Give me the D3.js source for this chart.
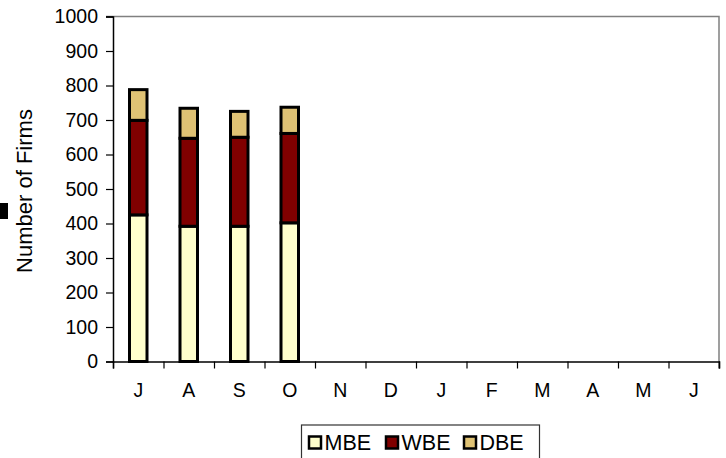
<!doctype html>
<html>
<head>
	<title>Number of Firms</title>
	<script src="https://cdn.jsdelivr.net/npm/d3@7"></script>
	<style>
		body { margin: 0; background: #fff; }
		text { font-family: "Liberation Sans", Arial, sans-serif; fill: #000; }
	</style>
</head>
<body>
	<script>
		var months = ["J", "A", "S", "O", "N", "D", "J", "F", "M", "A", "M", "J"];
		var seriesNames = ["MBE", "WBE", "DBE"];
		var seriesColors = ["#ffffcc", "#800000", "#dfc274"];
		var mbe = [425, 392, 392, 402];
		var wbe = [274, 255, 258, 259];
		var dbe = [89, 87, 75, 76];
		var yTicks = [0, 100, 200, 300, 400, 500, 600, 700, 800, 900, 1000];

		var width = 726, height = 458;
		var plotLeft = 113, plotRight = 719, plotTop = 16.5, plotBottom = 361.5;

		var svg = d3.select("body").append("svg")
			.attr("width", width)
			.attr("height", height);

		var x = d3.scaleBand()
			.domain(d3.range(months.length))
			.range([plotLeft, plotRight])
			.paddingInner(0)
			.paddingOuter(0);

		var y = d3.scaleLinear()
			.domain([0, 1000])
			.range([plotBottom, plotTop]);

		// plot area border (grey, top and right)
		svg.append("path")
			.attr("d", "M" + (plotLeft - 7) + "," + plotTop + "H" + plotRight + "V" + (plotBottom + 7))
			.attr("fill", "none")
			.attr("stroke", "#808080")
			.attr("stroke-width", 1.5);

		// stacked bars
		var rows = mbe.map(function (d, i) {
			return { i: i, MBE: mbe[i], WBE: wbe[i], DBE: dbe[i] };
		});
		var stack = d3.stack().keys(seriesNames)(rows);
		var barW = 17.5;

		svg.selectAll("g.series")
			.data(stack)
			.enter()
				.append("g")
				.attr("class", "series")
				.attr("fill", function (d, k) { return seriesColors[k]; })
				.selectAll("rect")
				.data(function (d) { return d; })
				.enter()
					.append("rect")
					.attr("x", function (d) { return x(d.data.i) + x.bandwidth() / 2 - barW / 2; })
					.attr("width", barW)
					.attr("y", function (d) { return y(d[1]); })
					.attr("height", function (d) { return y(d[0]) - y(d[1]); })
					.attr("stroke", "#000")
					.attr("stroke-width", 3);

		// y axis
		var yAxis = d3.axisLeft(y)
			.tickValues(yTicks)
			.tickFormat(d3.format("d"))
			.tickSize(7)
			.tickPadding(8);
		var ya = svg.append("g")
			.attr("transform", "translate(" + plotLeft + ",0)")
			.call(yAxis);
		ya.select(".domain").attr("stroke", "#000").attr("stroke-width", 1.5);
		ya.selectAll(".tick line").attr("stroke", "#000").attr("stroke-width", 1.2);
		ya.selectAll("text").style("font-size", "19.5px").attr("font-family", null);

		// x axis: ticks at category boundaries
		var xb = d3.scaleLinear().domain([0, months.length]).range([plotLeft, plotRight]);
		var xa = svg.append("g")
			.attr("transform", "translate(0," + plotBottom + ")")
			.call(d3.axisBottom(xb).ticks(months.length).tickSize(7).tickFormat(""));
		xa.select(".domain").attr("stroke", "#000").attr("stroke-width", 1.5);
		xa.selectAll(".tick line").attr("stroke", "#000").attr("stroke-width", 1.2);

		svg.selectAll("text.month")
			.data(months)
			.enter()
				.append("text")
				.attr("class", "month")
				.attr("x", function (d, i) { return x(i) + x.bandwidth() / 2; })
				.attr("y", 397)
				.attr("text-anchor", "middle")
				.style("font-size", "19.5px")
				.text(function (d) { return d; });

		// y axis title
		svg.append("text")
			.attr("transform", "translate(32,191) rotate(-90)")
			.attr("text-anchor", "middle")
			.style("font-size", "22px")
			.text("Number of Firms");

		// stray black marker at far left
		svg.append("rect")
			.attr("x", 0).attr("y", 203)
			.attr("width", 8).attr("height", 16)
			.attr("fill", "#000");

		// legend
		var legend = svg.append("g");
		legend.append("rect")
			.attr("x", 301.5).attr("y", 425)
			.attr("width", 238).attr("height", 40)
			.attr("fill", "#fff")
			.attr("stroke", "#333")
			.attr("stroke-width", 1.2);

		var legendX = [309, 386, 464];
		var item = legend.selectAll("g.item")
			.data(seriesNames)
			.enter()
				.append("g")
				.attr("class", "item")
				.attr("transform", function (d, i) { return "translate(" + legendX[i] + ",436.5)"; });
		item.append("rect")
			.attr("width", 12).attr("height", 12)
			.attr("fill", function (d, i) { return seriesColors[i]; })
			.attr("stroke", "#000")
			.attr("stroke-width", 2.5);
		item.append("text")
			.attr("x", 15.5)
			.attr("y", 13.5)
			.style("font-size", "21.5px")
			.text(function (d) { return d; });
	</script>
</body>
</html>
